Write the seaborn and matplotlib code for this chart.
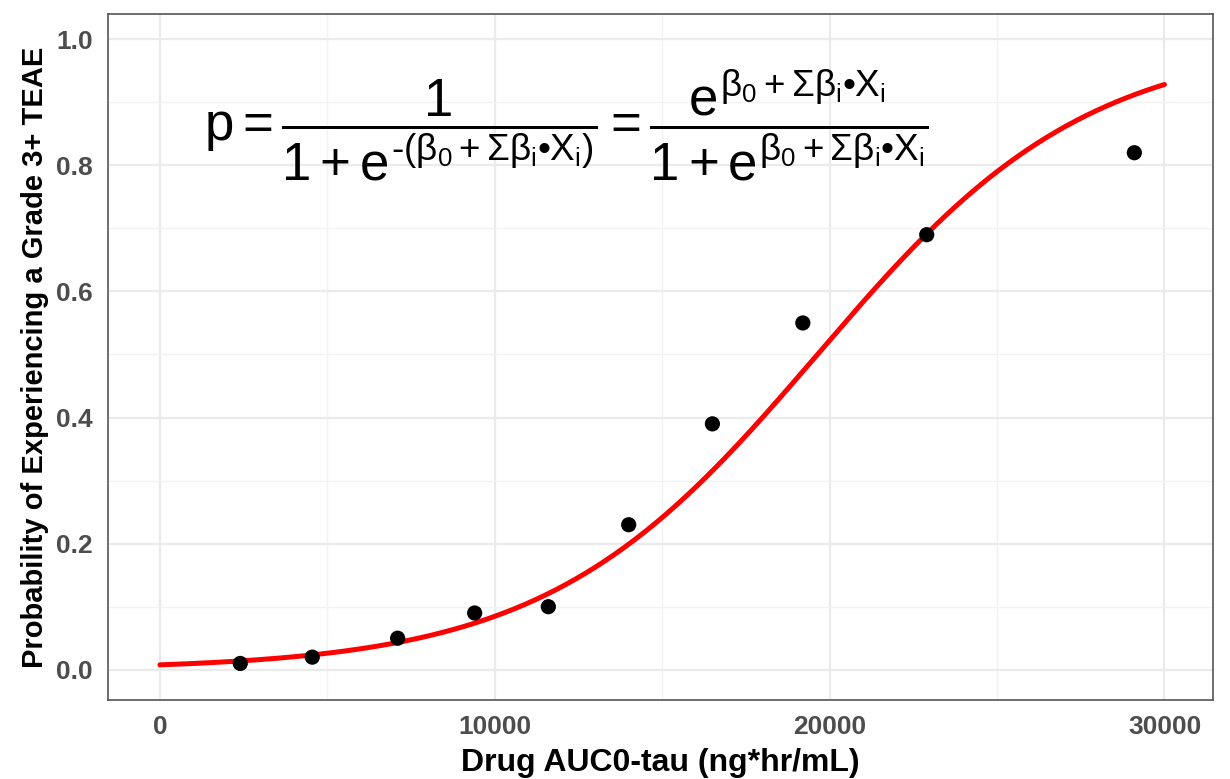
import numpy as np
import pandas as pd
import matplotlib
matplotlib.use("Agg")
import matplotlib.pyplot as plt
import seaborn as sns
from matplotlib.ticker import MultipleLocator

# Observed exposure bins and event proportions
auc = [2400, 4550, 7100, 9400, 11600, 14000, 16500, 19200, 22900, 29100]
prob = [0.01, 0.02, 0.05, 0.09, 0.10, 0.23, 0.39, 0.55, 0.69, 0.82]

# Fitted logistic-regression coefficients
beta0 = -4.85
beta1 = 2.47e-4

x_ticks = [0, 10000, 20000, 30000]
y_ticks = [0.0, 0.2, 0.4, 0.6, 0.8, 1.0]

x_title = "Drug AUC0-tau (ng*hr/mL)"
y_title = "Probability of Experiencing a Grade 3+ TEAE"

sns.set_theme(style="whitegrid")
plt.rcParams["font.family"] = ["Liberation Sans", "DejaVu Sans"]
plt.rcParams["mathtext.fontset"] = "custom"
plt.rcParams["mathtext.rm"] = "Liberation Sans"
plt.rcParams["mathtext.it"] = "Liberation Sans"
plt.rcParams["mathtext.bf"] = "Liberation Sans:bold"
plt.rcParams["mathtext.sf"] = "Liberation Sans"

df = pd.DataFrame({"auc": auc, "prob": prob})
grid_x = np.linspace(0, 30000, 400)
fit = pd.DataFrame({"auc": grid_x,
                    "prob": 1.0 / (1.0 + np.exp(-(beta0 + beta1 * grid_x)))})

fig = plt.figure(figsize=(12.3, 7.79), dpi=100)
ax = fig.add_axes([0.0878, 0.1014, 0.8984, 0.8806])

ax.set_facecolor("white")
ax.xaxis.set_minor_locator(MultipleLocator(5000))
ax.yaxis.set_minor_locator(MultipleLocator(0.1))
ax.grid(True, which="major", color="#EBEBEB", linewidth=1.6)
ax.grid(True, which="minor", color="#F2F2F2", linewidth=1.0)
ax.set_axisbelow(True)

sns.lineplot(data=fit, x="auc", y="prob", color="red", linewidth=3.6, ax=ax, zorder=3)
sns.scatterplot(data=df, x="auc", y="prob", color="black", s=120,
                edgecolor="none", ax=ax, zorder=4)

ax.set_xlim(-1550, 31450)
ax.set_ylim(-0.048, 1.04)
ax.set_xticks(x_ticks)
ax.set_yticks(y_ticks)
ax.set_xticklabels([str(v) for v in x_ticks], fontweight="bold",
                   fontsize=19, color="#4D4D4D")
ax.set_yticklabels([f"{v:.1f}" for v in y_ticks], fontweight="bold",
                   fontsize=19, color="#4D4D4D")
ax.tick_params(axis="both", which="major", length=6, width=1.2,
               color="#333333", direction="out", pad=5)
ax.tick_params(axis="both", which="minor", length=0)

for side in ["left", "right", "top", "bottom"]:
    ax.spines[side].set_visible(True)
    ax.spines[side].set_color("#555555")
    ax.spines[side].set_linewidth(1.2)

ax.set_xlabel(x_title, fontweight="bold", fontsize=23, color="black", labelpad=6)
ax.set_ylabel(y_title, fontweight="bold", fontsize=21, color="black", labelpad=5)

# Logistic model written out in the panel
expo = r"\beta_0+\Sigma\beta_i•X_i"
formula = (r"$p=\dfrac{1}{1+e^{\text{-}(" + expo + r")}}=\dfrac{e^{" + expo +
           r"}}{1+e^{" + expo + r"}}$")
ax.text(0.4145, 0.838, formula, transform=ax.transAxes, fontsize=38,
        ha="center", va="center", color="black")

fig.savefig("out.png", dpi=100)
